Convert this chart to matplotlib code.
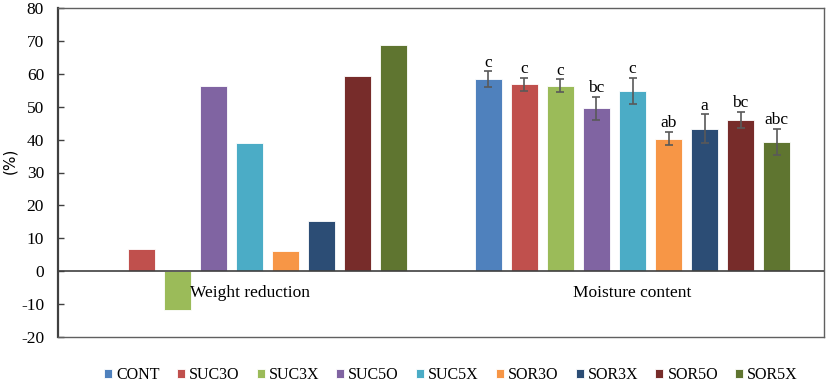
import matplotlib
matplotlib.use('Agg')
import matplotlib.pyplot as plt
import numpy as np

plt.rcParams['axes.unicode_minus'] = False

groups = ['Weight reduction', 'Moisture content']
treatments = ['CONT', 'SUC3O', 'SUC3X', 'SUC5O', 'SUC5X', 'SOR3O', 'SOR3X', 'SOR5O', 'SOR5X']
colors = ['#4F81BD', '#C0504D', '#9BBB59', '#8064A2', '#4BACC6',
          '#F79646', '#2C4D75', '#772C2A', '#5F7530']

weight_reduction = [0.0, 6.8, -11.9, 56.4, 38.9, 6.1, 15.2, 59.2, 68.7]
moisture = [58.3, 56.8, 56.4, 49.6, 54.8, 40.3, 43.3, 45.9, 39.3]
moisture_err = [2.4, 2.0, 1.9, 3.5, 4.0, 2.0, 4.4, 2.5, 4.0]
letters = ['c', 'c', 'c', 'bc', 'c', 'ab', 'a', 'bc', 'abc']

serif = 'Liberation Serif'

fig = plt.figure(figsize=(8.27, 3.85), dpi=100)
ax = fig.add_axes([58/827, 1-337/385, (824-58)/827, (337-8)/385])

x = np.arange(len(groups))
pitch = 0.094
width = 0.073
for j, t in enumerate(treatments):
    pos = x + (j-4)*pitch
    vals = [weight_reduction[j], moisture[j]]
    ax.bar(pos, vals, width, color=colors[j], edgecolor='white', linewidth=0.6,
           label=t, zorder=2)
    ax.errorbar(pos[1], moisture[j], yerr=moisture_err[j], fmt='none',
                ecolor='#595959', elinewidth=1.2, capsize=3, capthick=1.2, zorder=3)
    ax.text(pos[1], moisture[j]+moisture_err[j]+0.2, letters[j], ha='center',
            va='bottom', fontsize=12.5, family=serif)

ax.axhline(0, color='#404040', lw=1.2, zorder=4)
ax.set_xlim(-0.5, 1.5)
ax.set_ylim(-20, 80)
ax.set_yticks(range(-20, 81, 10))
ax.set_xticks([])
for i, g in enumerate(groups):
    ax.text(x[i], -6.6, g, ha='center', va='center', fontsize=12.5, family=serif)

ax.tick_params(axis='y', direction='in', length=4, width=1, color='#404040',
               labelsize=12.5, pad=10)
for lab in ax.get_yticklabels():
    lab.set_family(serif)
ax.spines['left'].set_color('#404040')
ax.spines['left'].set_linewidth(1.6)
for s in ['top', 'right', 'bottom']:
    ax.spines[s].set_color('#606060')
    ax.spines[s].set_linewidth(1.0)
ax.set_ylabel('(%)', fontsize=11, family='DejaVu Sans')
ax.yaxis.set_label_coords(-0.053, 0.535)

fig.legend(loc='center', bbox_to_anchor=(451/827, 1-375/385), ncol=9, frameon=False,
           prop={'family': serif, 'size': 11.5}, handlelength=0.5, handleheight=0.5,
           handletextpad=0.25, columnspacing=1.08)

fig.savefig('out.png', dpi=100)
